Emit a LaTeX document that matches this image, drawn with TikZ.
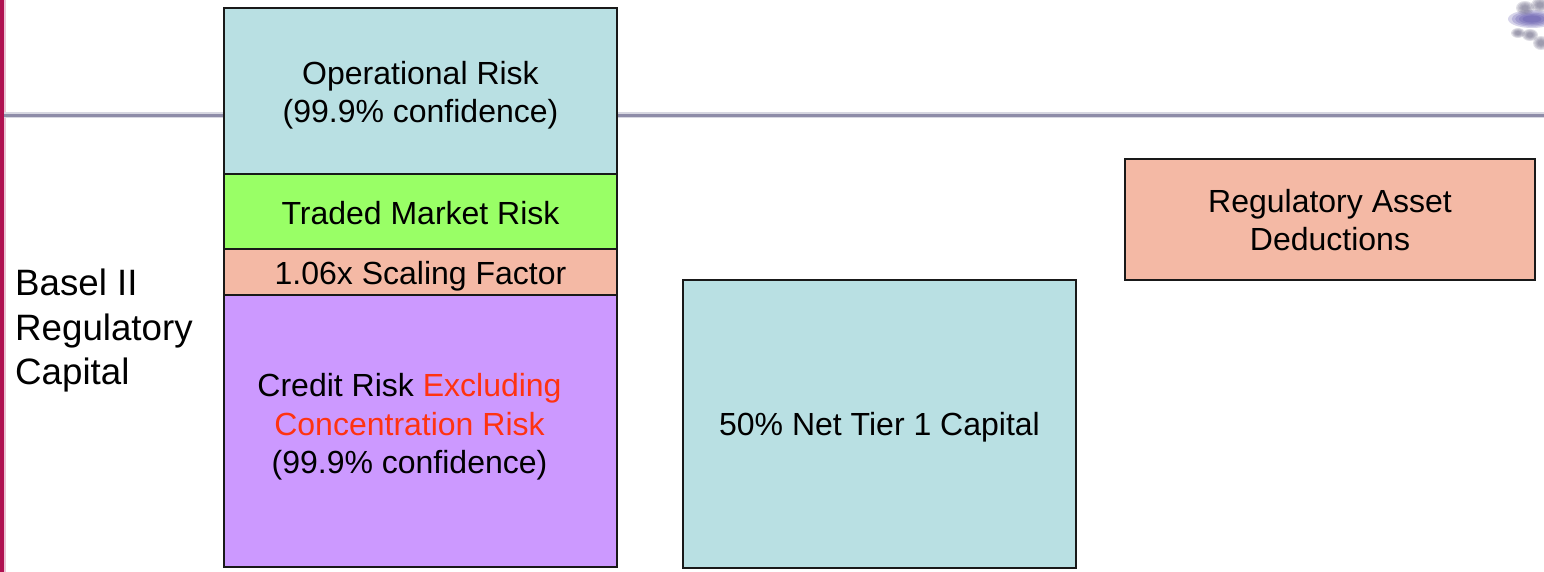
\documentclass[tikz,border=0pt]{standalone}
\usepackage{fontspec}
\setmainfont{Liberation Sans}
\definecolor{oprisk}{HTML}{B9E0E3}
\definecolor{mkt}{HTML}{99FF66}
\definecolor{peach}{HTML}{F4B9A5}
\definecolor{credit}{HTML}{CC99FF}
\definecolor{redtxt}{HTML}{FF3311}
\definecolor{rulec}{HTML}{8E8CA8}
\definecolor{barc}{HTML}{B01050}
\definecolor{logoc}{HTML}{4A3FA0}
\definecolor{logog}{HTML}{77748F}
\newcommand{\blob}[5]{\foreach \k in {1,0.85,0.7,0.55,0.4}{\fill[#5,opacity=0.22] (#1,#2) ellipse ({#3*\k} and {#4*\k});}}
\tikzset{
 box/.style={draw=black!90,line width=1.8pt,minimum width=#1,inner sep=0pt,outer sep=0pt,anchor=north west},
 txt/.style={inner sep=0pt,align=center,font=\fontsize{32}{38.5}\selectfont},
 lbl/.style={inner sep=0pt,align=left,anchor=north west,font=\fontsize{36.7}{44.5}\selectfont}
}
\begin{document}
\begin{tikzpicture}[x=1pt,y=-1pt]
\useasboundingbox (0,0) rectangle (1544,572);
\fill[barc] (0,0) rectangle (4,572);
\fill[barc!25] (4,0) rectangle (6,572);
\fill[rulec!35] (4,112.5) rectangle (1544,118.5);
\fill[rulec] (4,114) rectangle (1544,117);
\node[box=393pt,minimum height=166pt,fill=oprisk] (op) at (224,8) {};
\node[box=393pt,minimum height=75pt,fill=mkt] (tm) at (224,174) {};
\node[box=393pt,minimum height=46pt,fill=peach] (sf) at (224,249) {};
\node[box=393pt,minimum height=272pt,fill=credit] (cr) at (224,295) {};
\node[box=393pt,minimum height=288pt,fill=oprisk] (t1) at (683,280) {};
\node[box=410pt,minimum height=121pt,fill=peach] (ded) at (1125,159) {};
\node[txt] (opt) at (420.5,95) {Operational Risk\\(99.9\% confidence)};
\node[txt] (tmt) at (420.5,213) {Traded Market Risk};
\node[txt] (sft) at (420.5,276) {1.06x Scaling Factor};
\node[txt] (crt) at (409.5,427) {Credit Risk \textcolor{redtxt}{Excluding}\\\textcolor{redtxt}{Concentration Risk}\\(99.9\% confidence)};
\node[txt] (t1t) at (879.5,427.5) {50\% Net Tier 1 Capital};
\node[txt] (dedt) at (1330,220) {Regulatory Asset\\Deductions};
\node[lbl] (basel) at (15,269) {Basel II\\Regulatory\\Capital};
\blob{1532}{19}{24}{9}{logoc}
\blob{1525}{8}{9}{7}{logog}
\blob{1540}{5}{9}{7}{logog}
\blob{1518}{33}{7}{5}{logog}
\blob{1530}{35}{8}{6}{logog}
\blob{1541}{43}{8}{7}{logog}
\end{tikzpicture}
\end{document}
